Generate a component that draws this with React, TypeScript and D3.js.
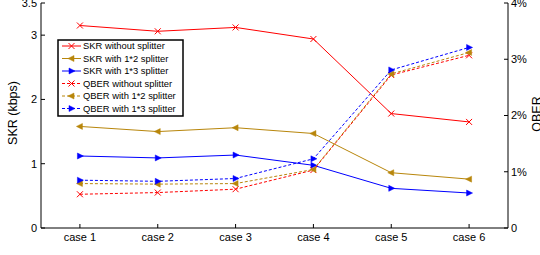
import React from "react";
import * as d3 from "d3";

const categories = ["case 1", "case 2", "case 3", "case 4", "case 5", "case 6"];
const skrWithout = [3.15, 3.06, 3.12, 2.94, 1.78, 1.65];
const skr12 = [1.58, 1.5, 1.56, 1.47, 0.86, 0.76];
const skr13 = [1.12, 1.09, 1.135, 0.975, 0.617, 0.544];
const qberWithout = [0.6, 0.63, 0.69, 1.03, 2.72, 3.07];
const qber12 = [0.79, 0.78, 0.79, 1.04, 2.74, 3.12];
const qber13 = [0.85, 0.83, 0.88, 1.23, 2.81, 3.21];
const leftTicks = [0, 1, 2, 3, 3.5];
const rightTicks = [0, 1, 2, 3, 4];

const RED = "#ff0000";
const BROWN = "#b8860b";
const BLUE = "#0000ff";

type Series = { name: string; values: number[]; color: string; marker: string; dashed: boolean; axis: "L" | "R" };

const series: Series[] = [
  { name: "SKR without splitter", values: skrWithout, color: RED, marker: "x", dashed: false, axis: "L" },
  { name: "SKR with 1*2 splitter", values: skr12, color: BROWN, marker: "tl", dashed: false, axis: "L" },
  { name: "SKR with 1*3 splitter", values: skr13, color: BLUE, marker: "tr", dashed: false, axis: "L" },
  { name: "QBER without splitter", values: qberWithout, color: RED, marker: "x", dashed: true, axis: "R" },
  { name: "QBER with 1*2 splitter", values: qber12, color: BROWN, marker: "tl", dashed: true, axis: "R" },
  { name: "QBER with 1*3 splitter", values: qber13, color: BLUE, marker: "tr", dashed: true, axis: "R" },
];

const L = 41, R = 508, T = 3, B = 228;
const FONT = "'Liberation Sans', Arial, Helvetica, sans-serif";

function Marker({ x, y, type, color }: { x: number; y: number; type: string; color: string }) {
  const s = 3;
  if (type === "x") {
    return (
      <path d={`M${x - s},${y - s}L${x + s},${y + s}M${x - s},${y + s}L${x + s},${y - s}`} stroke={color} strokeWidth={1} fill="none" />
    );
  }
  if (type === "tl") {
    return <path d={`M${x - 3.5},${y}L${x + 2.5},${y - 3}L${x + 2.5},${y + 3}Z`} fill={color} stroke={color} strokeWidth={0.5} />;
  }
  return <path d={`M${x + 3.5},${y}L${x - 2.5},${y - 3}L${x - 2.5},${y + 3}Z`} fill={color} stroke={color} strokeWidth={0.5} />;
}

export default function App() {
  const x = d3.scaleLinear().domain([0.5, categories.length + 0.5]).range([L, R]);
  const yL = d3.scaleLinear().domain([0, 3.5]).range([B, T]);
  const yR = d3.scaleLinear().domain([0, 4]).range([B, T]);

  const line = (s: Series) =>
    d3
      .line<number>()
      .x((_, i) => x(i + 1))
      .y((v) => (s.axis === "L" ? yL(v) : yR(v)))(s.values) || "";

  const legX = 58, legY = 40, legW = 125, legH = 76, rowH = 12.5;

  return (
    <svg width={540} height={255} style={{ position: "absolute", left: 0, top: 0, background: "#fff" }} fontFamily={FONT}>
      <rect x={0} y={0} width={540} height={255} fill="#fff" />
      {/* axes */}
      <line x1={L} y1={T} x2={L} y2={B} stroke="#000" strokeWidth={1} />
      <line x1={R} y1={T} x2={R} y2={B} stroke="#000" strokeWidth={1} />
      <line x1={L} y1={B} x2={R} y2={B} stroke="#000" strokeWidth={1} />
      {leftTicks.map((t) => (
        <g key={"l" + t}>
          <line x1={L} x2={L + 4} y1={yL(t)} y2={yL(t)} stroke="#000" />
          <text x={L - 4} y={yL(t)} dy="0.35em" textAnchor="end" fontSize={11}>
            {t}
          </text>
        </g>
      ))}
      {rightTicks.map((t) => (
        <g key={"r" + t}>
          <line x1={R - 4} x2={R} y1={yR(t)} y2={yR(t)} stroke="#000" />
          <text x={R + 3} y={yR(t)} dy="0.35em" textAnchor="start" fontSize={11}>
            {t === 0 ? "0" : t + "%"}
          </text>
        </g>
      ))}
      {categories.map((c, i) => (
        <g key={c}>
          <line x1={x(i + 1)} x2={x(i + 1)} y1={B} y2={B - 4} stroke="#000" />
          <text x={x(i + 1)} y={241} textAnchor="middle" fontSize={11}>
            {c}
          </text>
        </g>
      ))}
      <text transform={`translate(17,113) rotate(-90)`} textAnchor="middle" fontSize={12.5}>
        SKR (kbps)
      </text>
      <text transform={`translate(541,114) rotate(-90)`} textAnchor="middle" fontSize={12.5}>
        QBER
      </text>
      {/* series */}
      {series.map((s) => (
        <g key={s.name}>
          <path d={line(s)} fill="none" stroke={s.color} strokeWidth={1} strokeDasharray={s.dashed ? "3,2" : undefined} />
          {s.values.map((v, i) => (
            <Marker key={i} x={x(i + 1)} y={s.axis === "L" ? yL(v) : yR(v)} type={s.marker} color={s.color} />
          ))}
        </g>
      ))}
      {/* legend */}
      <rect x={legX} y={legY} width={legW} height={legH} fill="#fff" stroke="#000" strokeWidth={1.5} />
      {series.map((s, i) => {
        const yy = 46 + i * rowH;
        return (
          <g key={"lg" + s.name}>
            <line x1={62} x2={81} y1={yy} y2={yy} stroke={s.color} strokeWidth={1} strokeDasharray={s.dashed ? "3,2" : undefined} />
            <Marker x={71.5} y={yy} type={s.marker} color={s.color} />
            <text x={83} y={yy} dy="0.35em" fontSize={9.4}>
              {s.name}
            </text>
          </g>
        );
      })}
    </svg>
  );
}
